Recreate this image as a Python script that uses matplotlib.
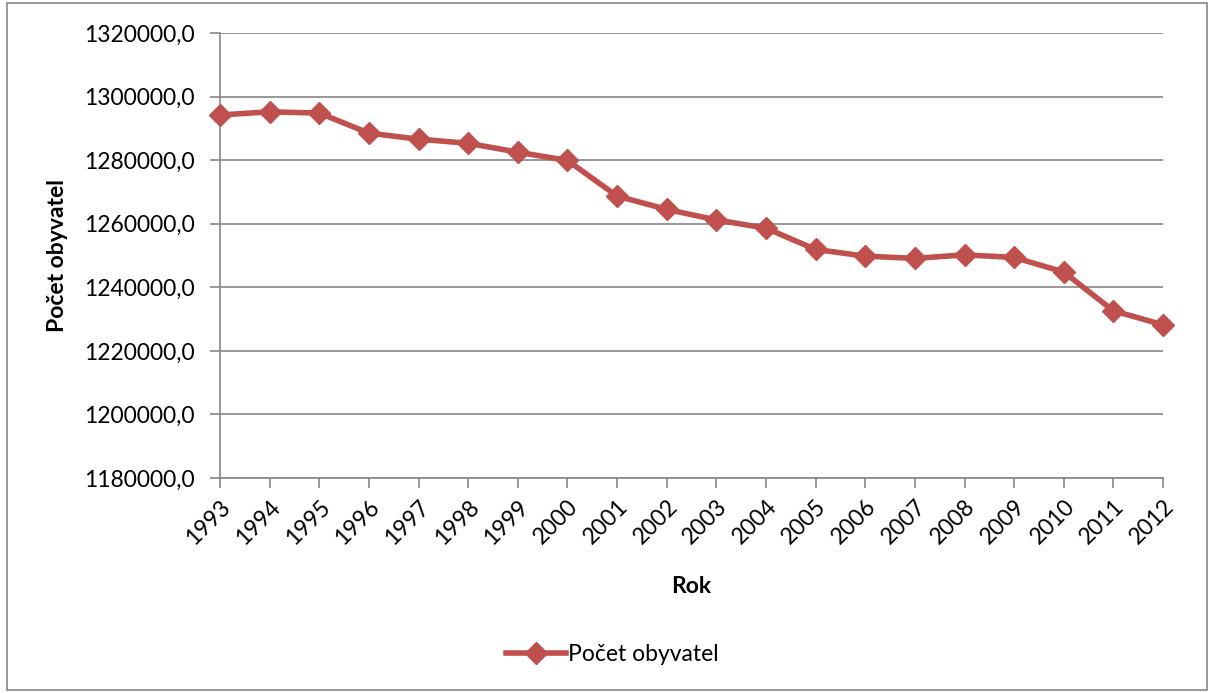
import matplotlib.pyplot as plt
from matplotlib.patches import Rectangle
from matplotlib.ticker import FuncFormatter

years = list(range(1993, 2013))
population = [1294200, 1295200, 1294800, 1288500, 1286600, 1285300, 1282500,
              1279900, 1268700, 1264500, 1261200, 1258600, 1251900, 1249800,
              1249100, 1250200, 1249400, 1244800, 1232600, 1228200]

plt.rcParams['font.family'] = ['Lato', 'DejaVu Sans']

fig = plt.figure(figsize=(12.13, 6.93), dpi=100)
ax = fig.add_axes([0.1814, 0.3102, 0.9588 - 0.1814, 0.9524 - 0.3102])

red = '#C0504D'
ax.plot(years, population, color=red, linewidth=4, marker='D', markersize=11,
        label='Počet obyvatel', clip_on=False, zorder=5)

ax.set_xlim(1993, 2012)
ax.set_ylim(1180000, 1320000)
ax.set_yticks(range(1180000, 1320001, 20000))
ax.yaxis.set_major_formatter(FuncFormatter(lambda v, p: f'{v:.1f}'.replace('.', ',')))
ax.set_xticks(years)
ax.set_xticklabels([str(y) for y in years], rotation=45, ha='right',
                   rotation_mode='anchor')

ax.grid(axis='y', color='#868686', linewidth=1.2)
ax.set_axisbelow(True)
for s in ['top', 'right']:
    ax.spines[s].set_visible(False)
for s in ['left', 'bottom']:
    ax.spines[s].set_color('#868686')
    ax.spines[s].set_linewidth(1.2)
ax.tick_params(axis='both', colors='#868686', length=7, width=1.2,
               labelcolor='black', labelsize=16.5)
ax.tick_params(axis='y', pad=11)
ax.tick_params(axis='x', pad=6)

ax.set_xlabel('Rok', fontsize=16.5, fontweight='bold', labelpad=20)
ax.set_ylabel('Počet obyvatel', fontsize=16.5, fontweight='bold', labelpad=12)

fig.legend(loc='center', bbox_to_anchor=(0.505, 0.055), frameon=False,
           fontsize=16.5, handlelength=2.6, handletextpad=0.1)

fig.patches.append(Rectangle((0.006, 0.004), 0.989, 0.991, transform=fig.transFigure,
                             fill=False, edgecolor='#868686', linewidth=1.2))

fig.savefig('out.png', dpi=100)
